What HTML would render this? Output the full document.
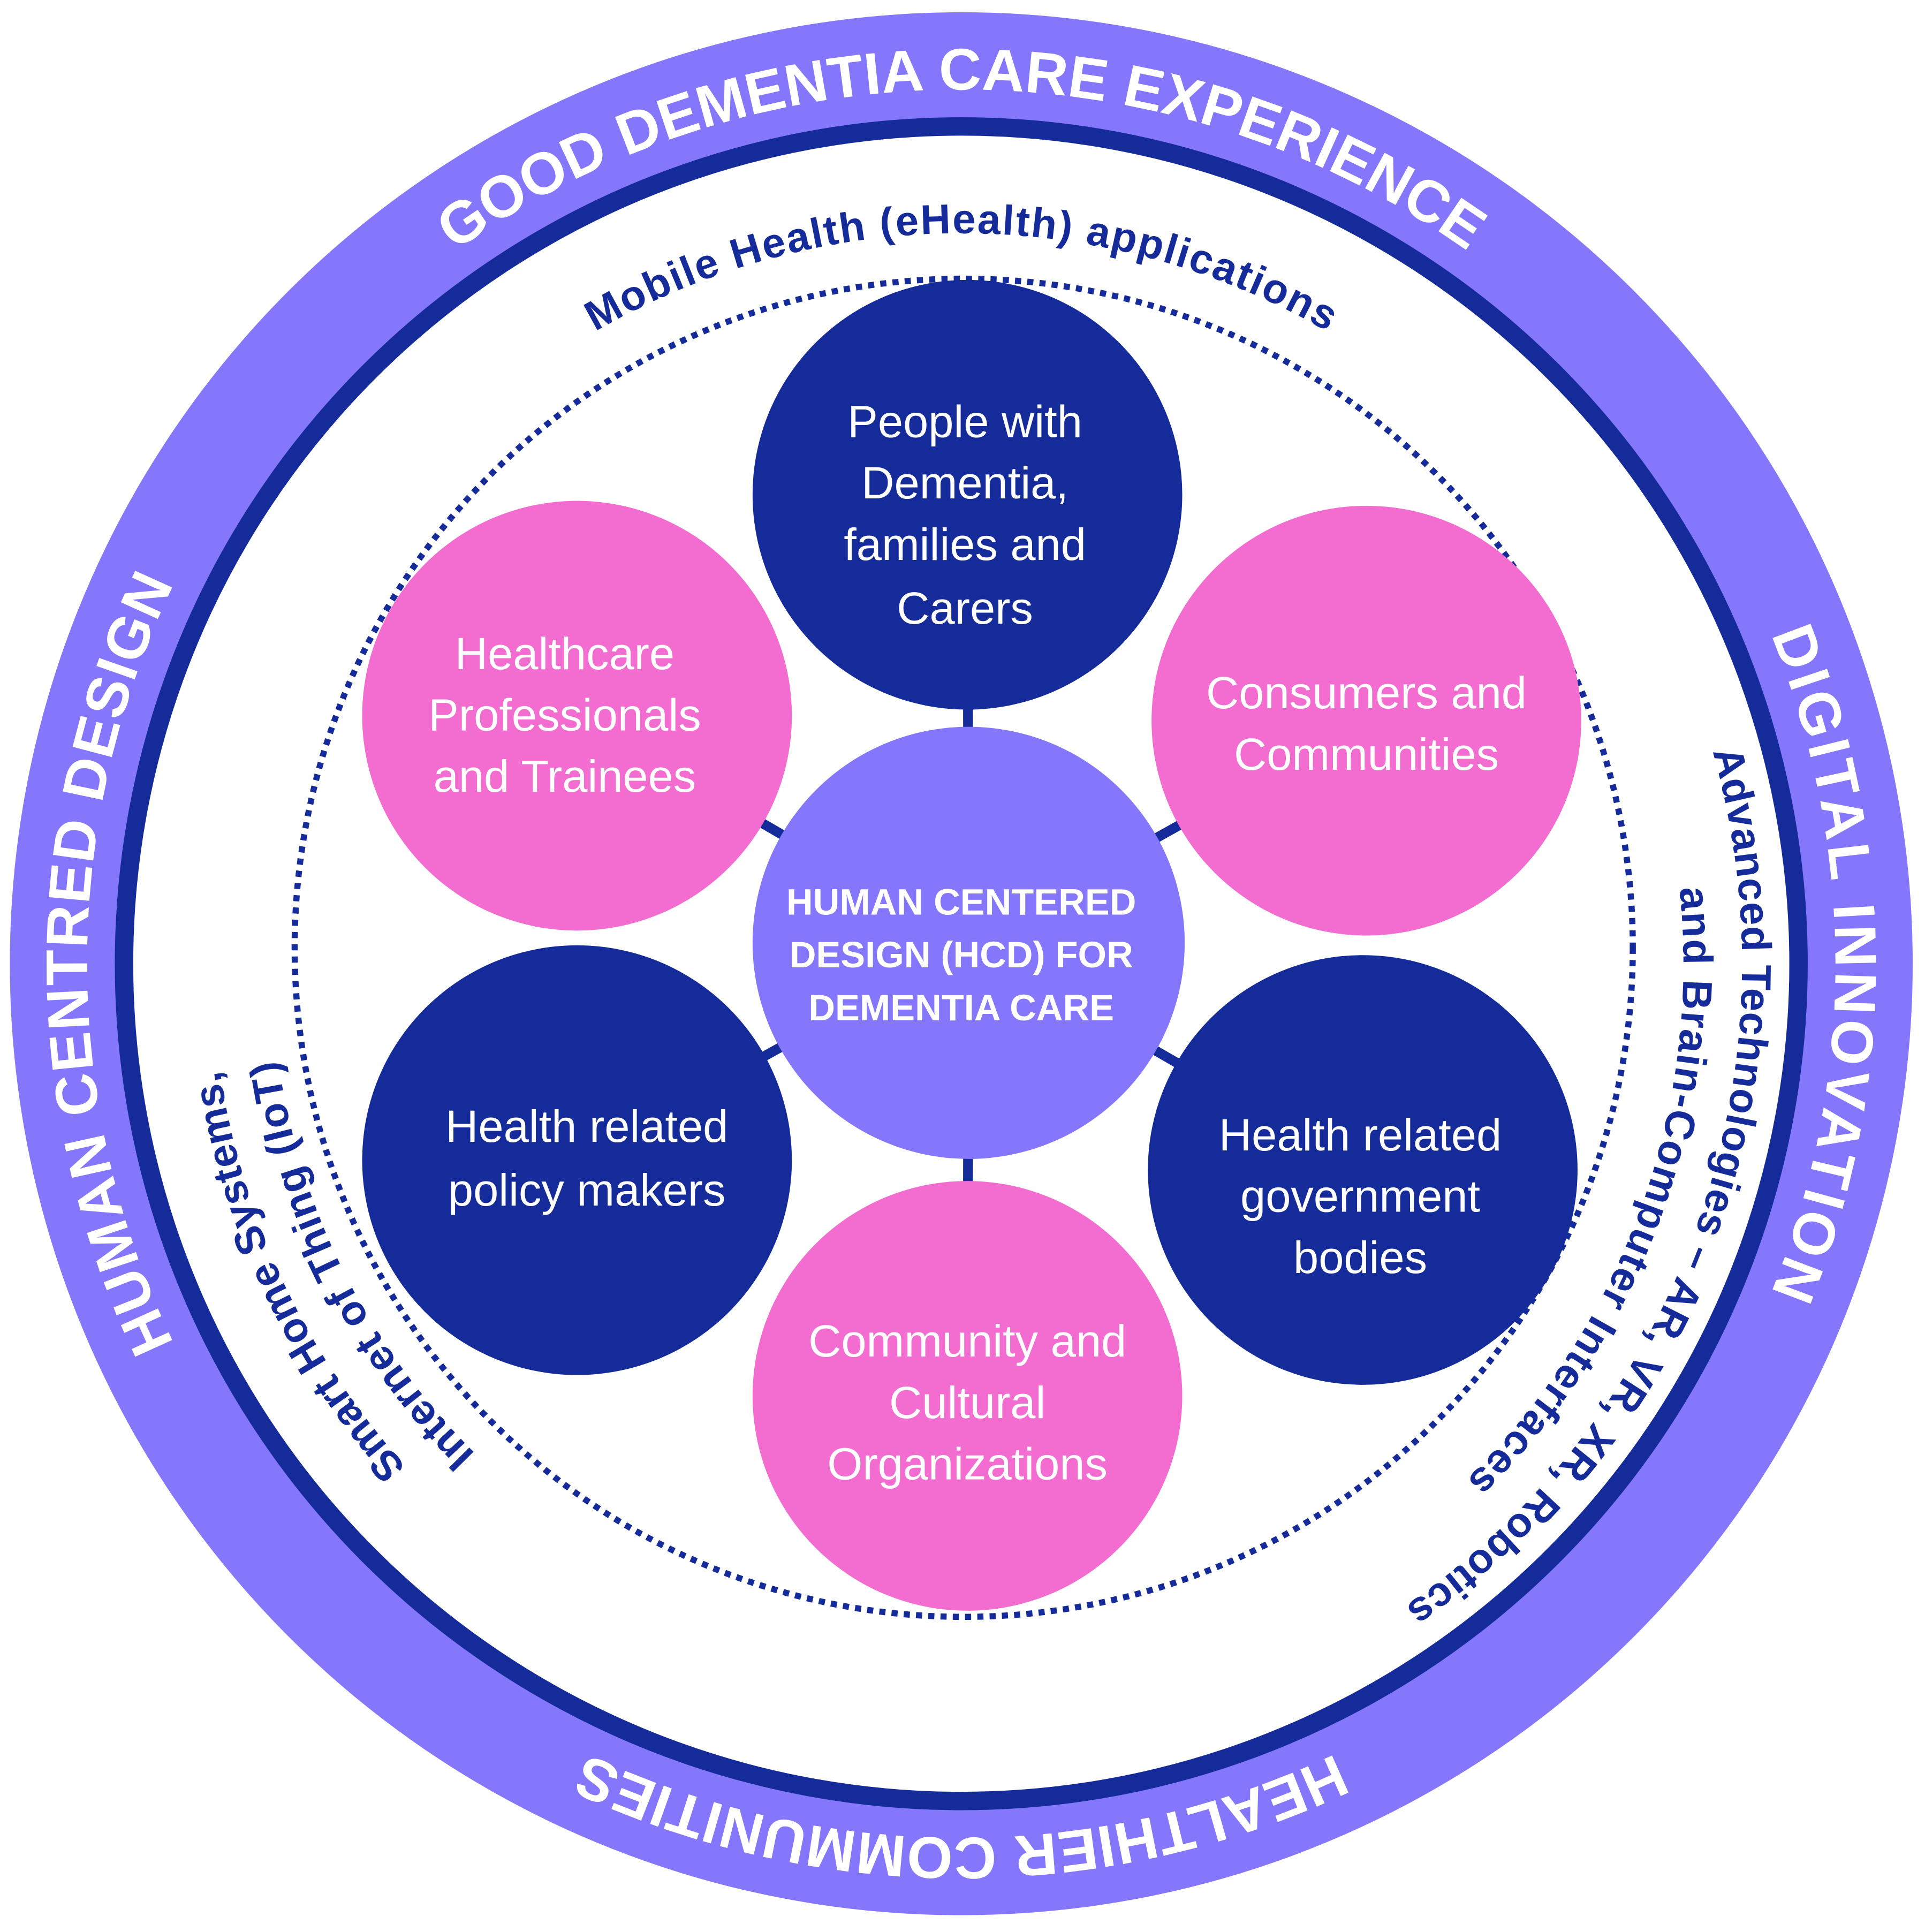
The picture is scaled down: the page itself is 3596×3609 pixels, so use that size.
<!DOCTYPE html>
<html><head><meta charset="utf-8"><style>
html,body{margin:0;padding:0;background:#fff}
svg{display:block}
</style></head><body>
<svg xmlns="http://www.w3.org/2000/svg" width="3596" height="3609" viewBox="0 0 1568 1573.7">
<defs>
<path id="p712" d="M783,1497 A712,712 0 1 1 783,73 A712,712 0 1 1 783,1497"/>
<path id="p712b" d="M783,73 A712,712 0 1 1 783,1497 A712,712 0 1 1 783,73"/>
<path id="p595" d="M783,1380 A595,595 0 1 1 783,190 A595,595 0 1 1 783,1380"/>
<path id="p636" d="M783,1421 A636,636 0 1 1 783,149 A636,636 0 1 1 783,1421"/>
<path id="p588" d="M783,1373 A588,588 0 1 1 783,197 A588,588 0 1 1 783,1373"/>
<path id="p610" d="M783,1395 A610,610 0 1 1 783,175 A610,610 0 1 1 783,1395"/>
<path id="p562" d="M783,1347 A562,562 0 1 1 783,223 A562,562 0 1 1 783,1347"/>
</defs>
<rect width="1568" height="1574" fill="#fff"/>
<circle cx="783" cy="785" r="732" fill="none" stroke="#8577fc" stroke-width="86"/>
<circle cx="783" cy="785" r="682" fill="none" stroke="#152b9a" stroke-width="15"/>
<circle cx="785" cy="772" r="545" fill="none" stroke="#152b9a" stroke-width="5" stroke-dasharray="5 5"/>

<g font-family="'Liberation Sans', sans-serif" font-weight="bold" font-size="48" fill="#fff" text-anchor="middle">
<text><textPath href="#p712" startOffset="50%" textLength="880">GOOD DEMENTIA CARE EXPERIENCE</textPath></text>
<text><textPath href="#p712" startOffset="25%" textLength="640">HUMAN CENTRED DESIGN</textPath></text>
<text><textPath href="#p712" startOffset="75%" textLength="550">DIGITAL INNOVATION</textPath></text>
<text><textPath href="#p712b" startOffset="50%" textLength="630">HEALTHIER COMMUNITIES</textPath></text>
</g>
<g font-family="'Liberation Sans', sans-serif" font-weight="bold" font-size="34" fill="#152b9a" text-anchor="middle">
<text><textPath href="#p595" startOffset="50%" textLength="625">Mobile Health (eHealth) applications</textPath></text>
<text><textPath href="#p636" startOffset="80.5%" textLength="790">Advanced Technologies – AR, VR, XR, Robotics</textPath></text>
<text><textPath href="#p588" startOffset="80.5%" textLength="530">and Brain-Computer Interfaces</textPath></text>
<text><textPath href="#p610" startOffset="18%" textLength="362">Smart Home Systems,</textPath></text>
<text><textPath href="#p562" startOffset="17.6%" textLength="365">Internet of Thing (IoT)</textPath></text>
</g>

<g stroke="#152b9a" stroke-width="8">
<line x1="789" y1="768" x2="788" y2="403"/>
<line x1="789" y1="768" x2="470" y2="583"/>
<line x1="789" y1="768" x2="1113" y2="587"/>
<line x1="789" y1="768" x2="470" y2="945"/>
<line x1="789" y1="768" x2="1110" y2="953"/>
<line x1="789" y1="768" x2="788" y2="1137"/>
</g>
<circle cx="788" cy="403" r="175" fill="#152b9a"/>
<circle cx="470" cy="583" r="175" fill="#f26dcf"/>
<circle cx="1113" cy="587" r="175" fill="#f26dcf"/>
<circle cx="470" cy="945" r="175" fill="#152b9a"/>
<circle cx="1110" cy="953" r="175" fill="#152b9a"/>
<circle cx="788" cy="1137" r="175" fill="#f26dcf"/>
<circle cx="789" cy="768" r="176" fill="#8577fc"/>

<g font-family="'Liberation Sans', sans-serif" font-size="37" fill="#fff" text-anchor="middle">
<text x="786" y="356">People with</text>
<text x="786" y="406">Dementia,</text>
<text x="786" y="456">families and</text>
<text x="786" y="508">Carers</text>
<text x="460" y="545">Healthcare</text>
<text x="460" y="595">Professionals</text>
<text x="460" y="645">and Trainees</text>
<text x="1113" y="577">Consumers and</text>
<text x="1113" y="627">Communities</text>
<text x="478" y="930">Health related</text>
<text x="478" y="982">policy makers</text>
<text x="1108" y="937">Health related</text>
<text x="1108" y="987">government</text>
<text x="1108" y="1037">bodies</text>
<text x="788" y="1105">Community and</text>
<text x="788" y="1155">Cultural</text>
<text x="788" y="1205">Organizations</text>
</g>
<g font-family="'Liberation Sans', sans-serif" font-weight="bold" font-size="30" fill="#fff" text-anchor="middle">
<text x="783" y="745">HUMAN CENTERED</text>
<text x="783" y="788">DESIGN (HCD) FOR</text>
<text x="783" y="831">DEMENTIA CARE</text>
</g>
</svg>
</body></html>
